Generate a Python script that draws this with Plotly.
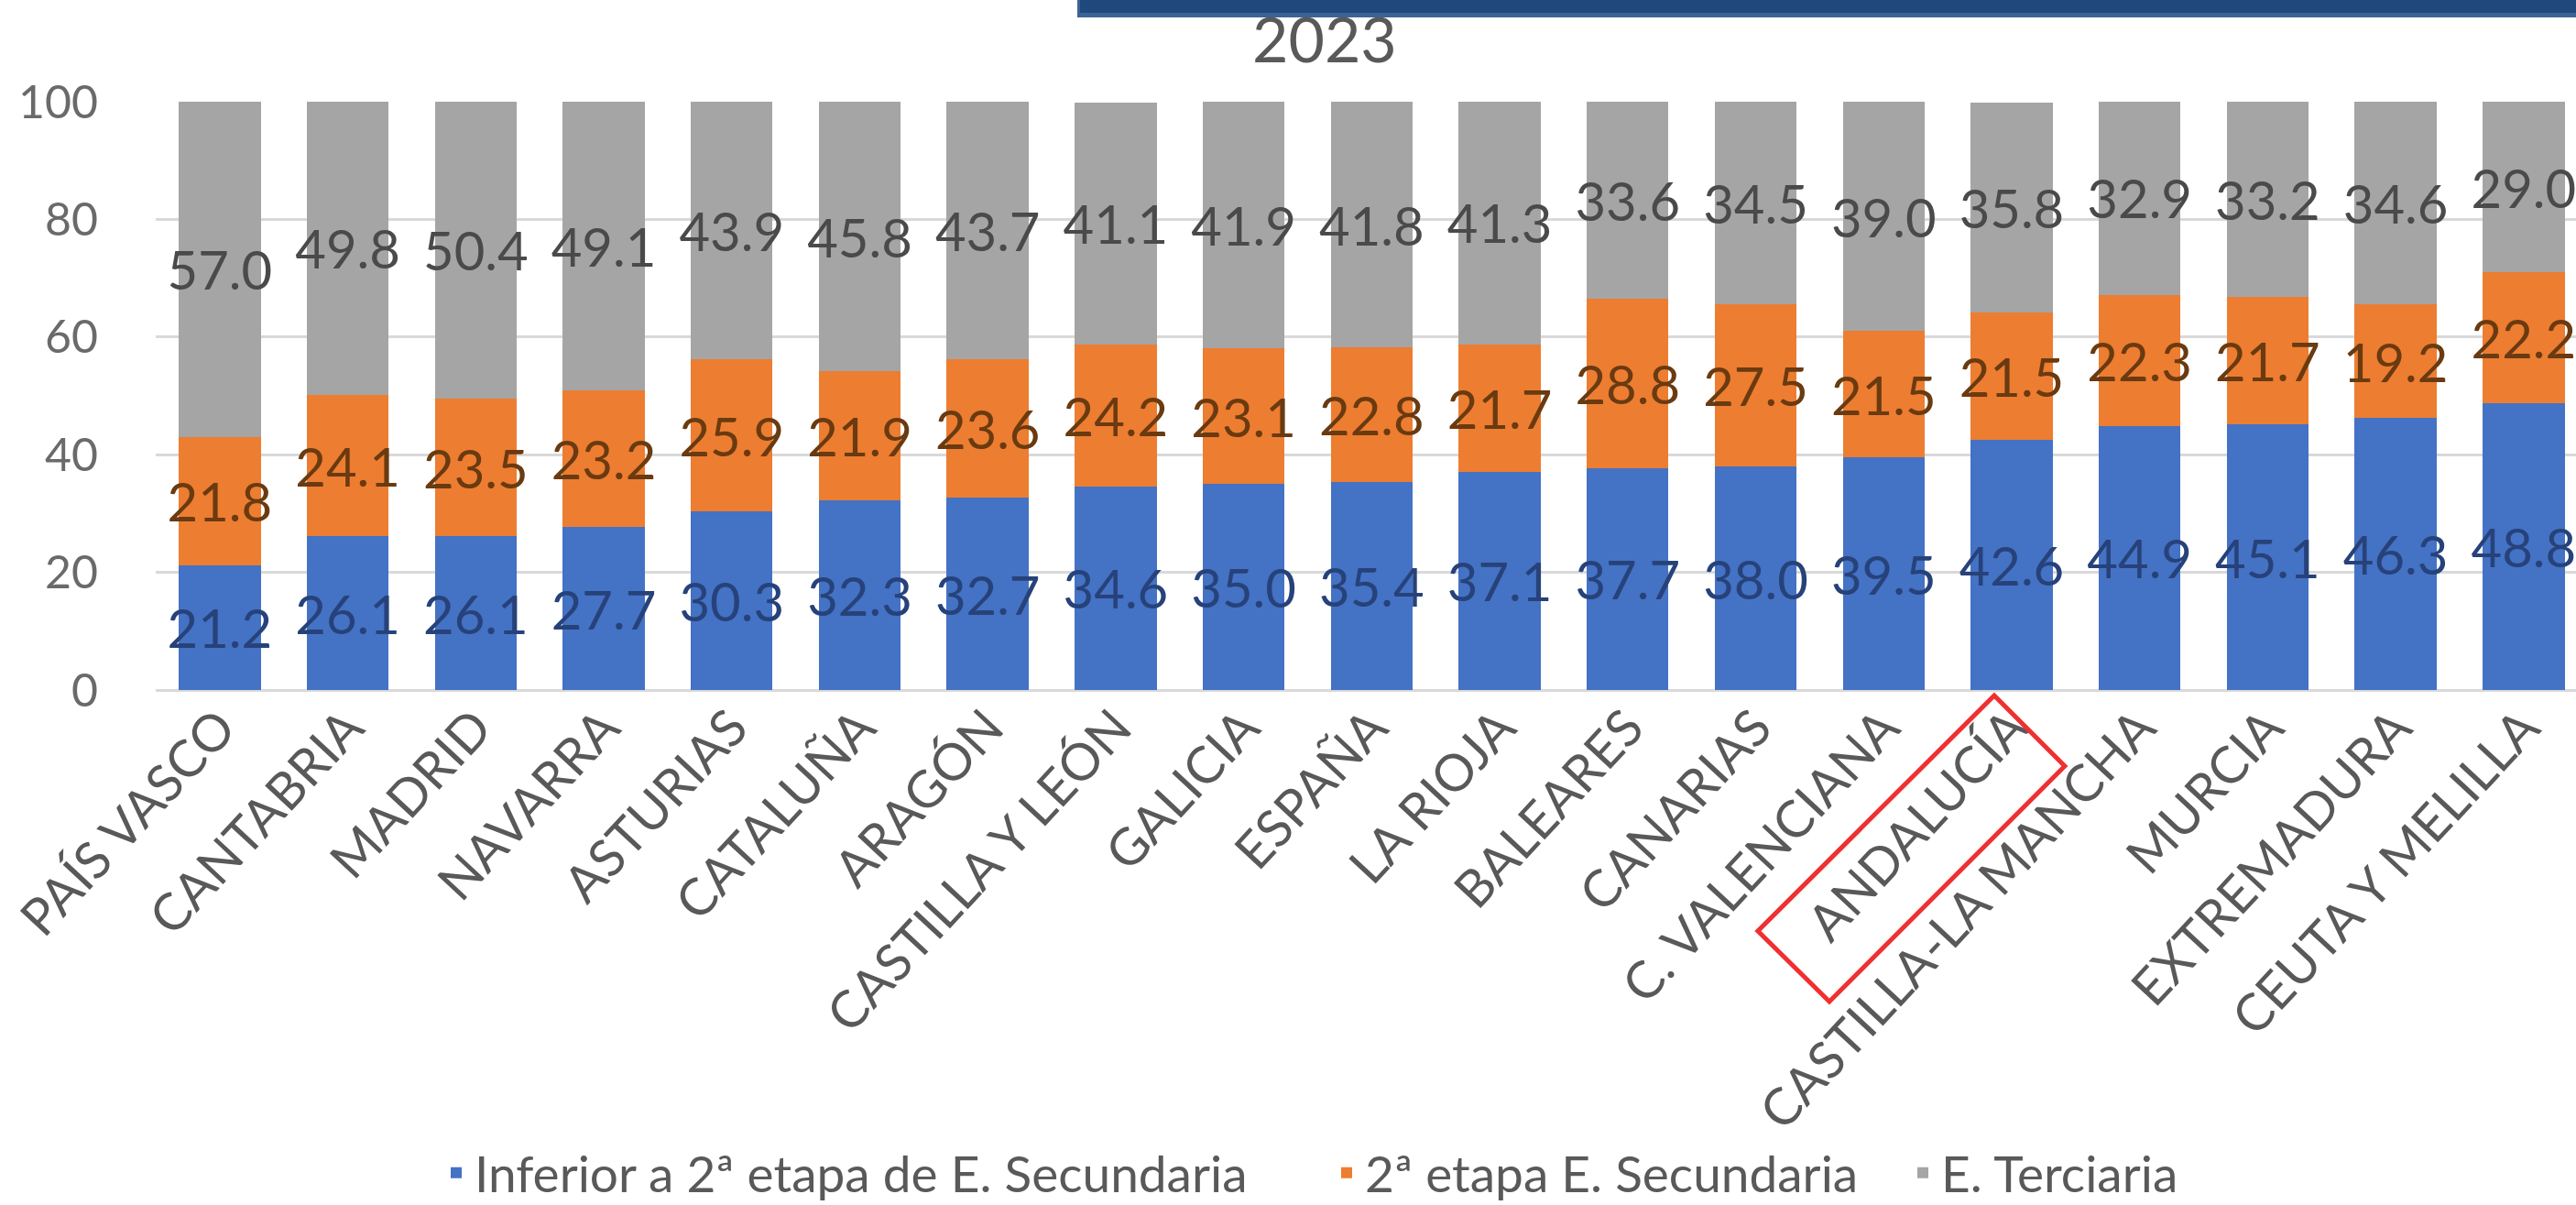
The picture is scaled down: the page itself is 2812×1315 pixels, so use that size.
import plotly.graph_objects as go

categories = ["PAÍS VASCO", "CANTABRIA", "MADRID", "NAVARRA", "ASTURIAS", "CATALUÑA",
              "ARAGÓN", "CASTILLA Y LEÓN", "GALICIA", "ESPAÑA", "LA RIOJA", "BALEARES",
              "CANARIAS", "C. VALENCIANA", "ANDALUCÍA", "CASTILLA-LA MANCHA", "MURCIA",
              "EXTREMADURA", "CEUTA Y MELILLA"]
inferior = [21.2, 26.1, 26.1, 27.7, 30.3, 32.3, 32.7, 34.6, 35.0, 35.4, 37.1, 37.7,
            38.0, 39.5, 42.6, 44.9, 45.1, 46.3, 48.8]
secundaria = [21.8, 24.1, 23.5, 23.2, 25.9, 21.9, 23.6, 24.2, 23.1, 22.8, 21.7, 28.8,
              27.5, 21.5, 21.5, 22.3, 21.7, 19.2, 22.2]
terciaria = [57.0, 49.8, 50.4, 49.1, 43.9, 45.8, 43.7, 41.1, 41.9, 41.8, 41.3, 33.6,
             34.5, 39.0, 35.8, 32.9, 33.2, 34.6, 29.0]
series_names = ["Inferior a 2ª etapa de E. Secundaria", "2ª etapa E. Secundaria", "E. Terciaria"]
title_text = "2023"
highlight = "ANDALUCÍA"

W, H = 2812, 1315
ML, MR, MT, MB = 170, 0, 111, 562
PW, PH = W - ML - MR, H - MT - MB
x_lo = -0.5
x_hi = x_lo + PW / 139.72

def px2paper_x(px):
    return (px - ML) / PW

def px2paper_y(py):
    return (H - MB - py) / PH

FONT = "Lato"
fig = go.Figure()
styles = [("#4472C4", "#27427a"), ("#ED7D31", "#6a3a10"), ("#A5A5A5", "#4a4a4a")]
legend_ids = ["legend", "legend2", "legend3"]
legend_left_px = [478, 1450, 2079]
for name, vals, (col, tcol), lid in zip(series_names, [inferior, secundaria, terciaria], styles, legend_ids):
    fig.add_bar(x=categories, y=vals, name=name, marker_color=col, marker_line_width=0,
                texttemplate="%{y:.1f}", textposition="inside", insidetextanchor="middle",
                textangle=0, constraintext="none", legend=lid,
                textfont=dict(size=58, color=tcol, family=FONT))

legend_common = dict(orientation="h", xanchor="left", yanchor="middle", y=px2paper_y(1280),
                     font=dict(size=55, color="#595959", family=FONT), itemwidth=30,
                     bgcolor="rgba(0,0,0,0)", borderwidth=0)
legends = {lid: dict(legend_common, x=px2paper_x(lx)) for lid, lx in zip(legend_ids, legend_left_px)}

# red highlight box around the highlighted category label
idx = categories.index(highlight)
span = x_hi - x_lo
def cat2paper(c):
    return (c - x_lo) / span
corners = [(idx - 0.136, px2paper_y(759)), (idx + 0.415, px2paper_y(836)),
           (idx - 1.424, px2paper_y(1093)), (idx - 1.983, px2paper_y(1016))]
path = "M " + " L ".join(f"{cat2paper(c):.5f},{y:.5f}" for c, y in corners) + " Z"

shapes = [
    dict(type="path", xref="paper", yref="paper", path=path,
         line=dict(color="#F03030", width=5), fillcolor="rgba(0,0,0,0)", layer="above"),
]

annotations = [
    dict(text=title_text, xref="paper", yref="paper", x=px2paper_x(1446),
         y=px2paper_y(41), xanchor="center", yanchor="middle", showarrow=False,
         font=dict(size=68, color="#595959", family=FONT)),
    # top banner (drawn after the title so it covers the title's upper edge)
    dict(text=" ", xref="paper", yref="paper", x=px2paper_x(1176), y=px2paper_y(0),
         xanchor="left", yanchor="top", showarrow=False, width=1660, height=19,
         bgcolor="#3B6395", borderpad=0, borderwidth=0, font=dict(size=8)),
    dict(text=" ", xref="paper", yref="paper", x=px2paper_x(1179), y=px2paper_y(0),
         xanchor="left", yanchor="top", showarrow=False, width=1660, height=14,
         bgcolor="#1F497D", borderpad=0, borderwidth=0, font=dict(size=8)),
]

fig.update_layout(
    width=W, height=H, autosize=False,
    margin=dict(l=ML, r=MR, t=MT, b=MB, pad=0, autoexpand=False),
    paper_bgcolor="white", plot_bgcolor="white",
    barmode="stack", bargap=0.36,
    font=dict(family=FONT, color="#595959"),
    showlegend=True,
    xaxis=dict(range=[x_lo, x_hi], tickangle=-47, showgrid=False, zeroline=False,
               showline=False, ticks="", automargin=False,
               tickfont=dict(size=56, color="#595959", family=FONT),
               ticklabelstandoff=-4),
    yaxis=dict(range=[0, 100], dtick=20, showgrid=True, gridcolor="#D9D9D9", gridwidth=3,
               zeroline=True, zerolinecolor="#D9D9D9", zerolinewidth=3, showline=False,
               ticks="", automargin=False,
               tickfont=dict(size=50, color="#6a6a6a", family=FONT),
               ticklabelstandoff=62),
    shapes=shapes,
    annotations=annotations,
    **legends,
)

fig.write_html("out.html", config={"displayModeBar": False},
               post_script="document.body.style.margin='0';document.body.style.overflow='hidden';")
